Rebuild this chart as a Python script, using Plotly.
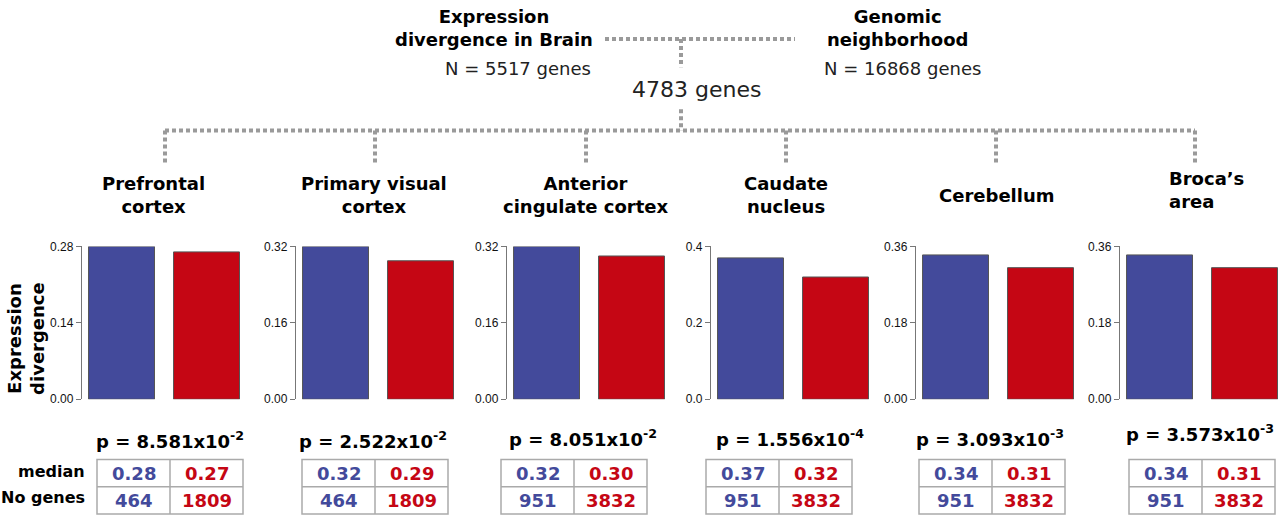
import plotly.graph_objects as go

# data
regions = ['Prefrontal<br>cortex', 'Primary visual<br>cortex', 'Anterior<br>cingulate cortex',
           'Caudate<br>nucleus', 'Cerebellum', 'Broca\u2019s<br>area']
median_brain = [0.28, 0.32, 0.32, 0.37, 0.34, 0.34]
median_neigh = [0.27, 0.29, 0.30, 0.32, 0.31, 0.31]
genes_brain = [464, 464, 951, 951, 951, 951]
genes_neigh = [1809, 1809, 3832, 3832, 3832, 3832]
p_mantissa = ['8.581', '2.522', '8.051', '1.556', '3.093', '3.573']
p_exponent = ['-2', '-2', '-2', '-4', '-3', '-3']
y_max = [0.28, 0.32, 0.32, 0.4, 0.36, 0.36]
tick_text = [['0.00', '0.14', '0.28'], ['0.00', '0.16', '0.32'], ['0.00', '0.16', '0.32'],
             ['0.0', '0.2', '0.4'], ['0.00', '0.18', '0.36'], ['0.00', '0.18', '0.36']]

W, H = 1280, 525
BLUE = '#434a9b'
RED = '#c50614'
GRAY = '#9a9a9a'
FONT = 'DejaVu Sans'


def px(x):
    return x / W


def py(y):
    return 1 - y / H


# layout in pixels
axis_left = [82, 296, 507, 711, 916, 1120]
title_x = [153, 374, 585, 786, 997, 1167]
p_x = [170, 373, 583, 790, 990, 1200]
p_y = [445, 445, 443, 443, 443, 438]
table_left = [97, 302, 501, 706, 919, 1129]
branch_x = [165, 375, 586, 786, 996, 1195]
PANEL_W = 160  # px, 85 px per bar slot

fig = go.Figure()
annotations = []
shapes = []

for i in range(6):
    n = '' if i == 0 else str(i + 1)
    fig.add_trace(go.Bar(
        x=[0, 1], y=[median_brain[i], median_neigh[i]], width=0.776,
        marker=dict(color=[BLUE, RED], line=dict(color='#555', width=1)),
        xaxis='x' + n, yaxis='y' + n, showlegend=False, hoverinfo='skip'))
    fig.update_layout(**{
        'xaxis' + n: dict(domain=[px(axis_left[i]), px(axis_left[i] + PANEL_W)],
                          range=[-0.465, -0.465 + PANEL_W / 85], visible=False,
                          anchor='y' + n),
        'yaxis' + n: dict(domain=[py(403), py(246)], range=[0, y_max[i]],
                          anchor='x' + n, showgrid=False, zeroline=False,
                          showline=True, linecolor='#777', linewidth=1.3,
                          ticks='outside', ticklen=5, tickcolor='#777',
                          tickvals=[0, y_max[i] / 2, y_max[i]], ticktext=tick_text[i],
                          tickfont=dict(family='Liberation Sans', size=12, color='#111')),
    })

    # region title
    annotations.append(dict(
        x=px(title_x[i]), y=py(188.5 if i == 5 else 193.5), xref='paper', yref='paper',
        text='<b>%s</b>' % regions[i], showarrow=False,
        xanchor='left' if i == 5 else 'center', yanchor='middle',
        align='left' if i == 5 else 'center',
        font=dict(family=FONT, size=18, color='black')))

    # p value
    annotations.append(dict(
        x=px(p_x[i]), y=py(p_y[i]), xref='paper', yref='paper',
        text='<b>p = %sx10<sup>%s</sup></b>' % (p_mantissa[i], p_exponent[i]),
        showarrow=False, xanchor='center', yanchor='middle',
        font=dict(family=FONT, size=18, color='black')))

    # small table
    l, t, b = table_left[i], 465, 521
    m = l + 73
    r = l + 146
    shapes.append(dict(type='rect', xref='paper', yref='paper', x0=px(l), x1=px(r),
                       y0=py(b), y1=py(t), line=dict(color='#aaa', width=1.5)))
    shapes.append(dict(type='line', xref='paper', yref='paper', x0=px(m), x1=px(m),
                       y0=py(b), y1=py(t), line=dict(color='#aaa', width=1.5)))
    shapes.append(dict(type='line', xref='paper', yref='paper', x0=px(l), x1=px(r),
                       y0=py(493), y1=py(493), line=dict(color='#aaa', width=1.5)))
    cells = [(l + 36.5, 479, '%.2f' % median_brain[i], BLUE),
             (m + 36.5, 479, '%.2f' % median_neigh[i], RED),
             (l + 36.5, 507, str(genes_brain[i]), BLUE),
             (m + 36.5, 507, str(genes_neigh[i]), RED)]
    for cx, cy, txt, col in cells:
        annotations.append(dict(
            x=px(cx), y=py(cy), xref='paper', yref='paper', text='<b>%s</b>' % txt,
            showarrow=False, xanchor='center', yanchor='middle',
            font=dict(family=FONT, size=18, color=col)))

# row labels of the tables
for label, yy in [('median', 477), ('No genes', 504)]:
    annotations.append(dict(
        x=px(87), y=py(yy), xref='paper', yref='paper', text='<b>%s</b>' % label,
        showarrow=False, xanchor='right', yanchor='middle',
        font=dict(family=FONT, size=16, color='black')))

# y axis title
annotations.append(dict(
    x=px(26), y=py(341), xref='paper', yref='paper',
    text='<b>Expression<br>divergence</b>', textangle=-90, showarrow=False,
    xanchor='center', yanchor='middle',
    font=dict(family=FONT, size=18, color='black')))

# top labels
annotations += [
    dict(x=px(494), y=py(22), text='<b>Expression<br>divergence in Brain</b>',
         xanchor='center', font=dict(family=FONT, size=18, color='black')),
    dict(x=px(593), y=py(63), text='N = 5517 genes', xanchor='right',
         font=dict(family=FONT, size=18, color='#222')),
    dict(x=px(897), y=py(22), text='<b>Genomic<br>neighborhood</b>',
         xanchor='center', font=dict(family=FONT, size=18, color='black')),
    dict(x=px(822), y=py(63), text='N = 16868 genes', xanchor='left',
         font=dict(family=FONT, size=18, color='#222')),
    dict(x=px(696), y=py(85), text='4783 genes', xanchor='center',
         font=dict(family=FONT, size=22, color='#222')),
]
for a in annotations[-5:]:
    a.update(xref='paper', yref='paper', showarrow=False, yanchor='middle')

# dotted tree connectors
dots = dict(color=GRAY, width=4, dash='4px,3px')
tree = [(605, 33, 795, 33), (681, 33, 681, 62), (681, 105, 681, 127),
        (branch_x[0], 127, branch_x[-1], 127)]
tree += [(bx, 127, bx, 162) for bx in branch_x]
for x0, y0, x1, y1 in tree:
    shapes.append(dict(type='line', xref='paper', yref='paper',
                       x0=px(x0), y0=py(y0), x1=px(x1), y1=py(y1), line=dots))

fig.update_layout(
    width=W, height=H, margin=dict(l=0, r=0, t=0, b=0),
    paper_bgcolor='white', plot_bgcolor='white',
    annotations=annotations, shapes=shapes, bargap=0.2,
)

# pin the figure to the window corner, nothing else on the page
fig.write_html('out.html', config={'displayModeBar': False},
               post_script="document.documentElement.style.margin='0';"
                           "document.body.style.margin='0';"
                           "document.body.style.overflow='hidden';"
                           "var d=document.getElementById('{plot_id}');"
                           "d.style.position='absolute';d.style.left='0';d.style.top='0';")
